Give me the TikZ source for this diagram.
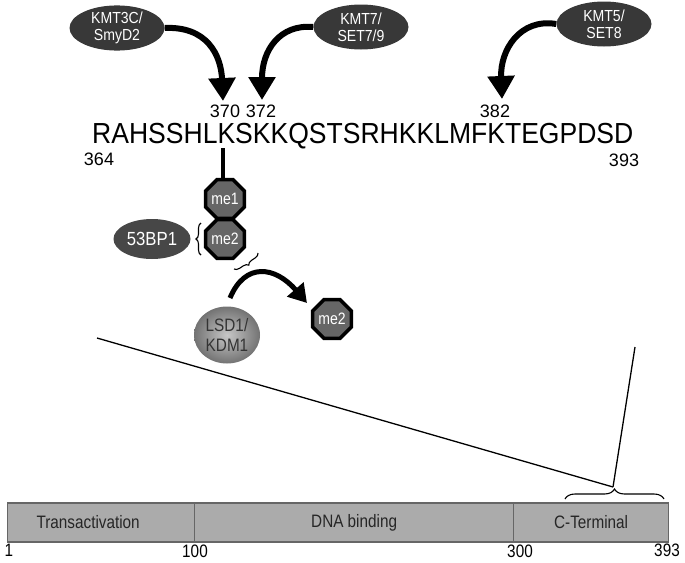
\documentclass[tikz,border=0pt]{standalone}
\usepackage{fontspec}
\setmainfont{Liberation Sans}
\newfontfamily\seqfont[FakeStretch=0.915]{Liberation Sans}
\newfontfamily\narrowfont[FakeStretch=0.85]{Liberation Sans}
\newfontfamily\kinfont[FakeStretch=0.88]{Liberation Sans}
\usetikzlibrary{shapes.geometric,arrows.meta,decorations.pathreplacing}
\begin{document}
\begin{tikzpicture}[x=1pt,y=-1pt,
  kin/.style={ellipse, fill=black!78, text=white, minimum width=95pt, minimum height=45pt,
    inner sep=0pt, align=center, font=\kinfont\fontsize{16}{17}\selectfont},
  meo/.style={regular polygon, regular polygon sides=8, minimum size=42pt, inner sep=0pt,
    draw=black, line width=3.5pt, fill=black!60, text=white, font=\narrowfont\fontsize{16.5}{17}\selectfont},
  bigarrow/.style={line width=6pt, -{Triangle[length=23pt,width=26pt]}},
  midarrow/.style={line width=5pt, -{Triangle[length=18pt,width=21pt]}},
  num/.style={font=\fontsize{18}{19}\selectfont, inner sep=0pt},
  seg/.style={rectangle, draw=black!60, line width=1.3pt, fill=black!33, minimum height=39pt,
    anchor=west, inner sep=0pt, font=\narrowfont\fontsize{18}{19}\selectfont, text=black!85},
  bnum/.style={font=\narrowfont\fontsize{18}{19}\selectfont, inner sep=0pt},
  bracestyle/.style={decorate, line width=1.1pt}
]
\useasboundingbox (0,0) rectangle (685,562);

% kinases
\node[kin] (k1) at (117,28) {KMT3C/\\SmyD2};
\node[kin] (k2) at (361,27) {KMT7/\\SET7/9};
\node[kin] (k3) at (604,24) {KMT5/\\SET8};

% sequence and positions
\node[anchor=base west, inner sep=0pt] (seq) at (92,143)
  {\seqfont\fontsize{29}{30}\selectfont RAHSSHLKSKKQSTSRHKKLMFKTEGPDSD};
\node[num] (n370) at (225,111) {370};
\node[num] (n372) at (261,111) {372};
\node[num] (n382) at (495,111) {382};
\node[num] (n364) at (99,159) {364};
\node[num] (n393) at (624,160) {393};

\coordinate (t370) at (223,101);
\coordinate (t372) at (262,100);
\coordinate (t382) at (502,99);
\draw[bigarrow] (k1.east) .. controls (207,26) and (221,55) .. (t370);
\draw[bigarrow] (k2.west) .. controls (280,24) and (262,50) .. (t372);
\draw[bigarrow] (k3.west) .. controls (520,18) and (500,50) .. (t382);

% methylation states
\node[meo] (me1) at (225,199) {me1};
\node[meo] (me2) at (225,239) {me2};
\coordinate (kpos) at (223,148);
\draw[line width=4pt] (kpos) -- (kpos |- me1.north);

\node[ellipse, fill=black!72, text=white, minimum width=77pt, minimum height=40pt, inner sep=0pt,
  font=\kinfont\fontsize{19}{20}\selectfont] (bp) at (152,239) {53BP1};
\draw[bracestyle, decoration={brace, amplitude=5pt}] (201,255) -- (201,223);
\draw[bracestyle, decoration={brace, amplitude=5pt}] (258,253) -- (234,269);

% demethylation
\node[ellipse, shading=radial, inner color=black!22, outer color=black!55, text=black!80,
  minimum width=66pt, minimum height=57pt, inner sep=0pt, align=center,
  font=\narrowfont\fontsize{18}{20}\selectfont] (lsd) at (227,335) {LSD1/\\KDM1};
\node[meo] (me2b) at (332,319) {me2};
\coordinate (lsdstart) at (230,298);
\coordinate (metip) at (307,303);
\draw[midarrow] (lsdstart) .. controls (245,262) and (275,266) .. (metip);

% protein domains
\node[seg, minimum width=187pt] (ta) at (7,522.5) {\hspace*{-26pt}Transactivation};
\node[seg, minimum width=319pt] (dna) at (194,522.5) {DNA binding};
\node[seg, minimum width=155pt] (ct) at (513,522.5) {C-Terminal};

\node[bnum] (b1) at (9,550) {1};
\node[bnum] (b100) at (195,551) {100};
\node[bnum] (b300) at (520,551) {300};
\node[bnum] (b393) at (667,550) {393};

% zoom lines and brace
\coordinate (ztip) at (613,487);
\coordinate (zl) at (97,338);
\coordinate (zr) at (635,347);
\draw[line width=1.3pt] (zl) -- (ztip);
\draw[line width=1.3pt] (zr) -- (ztip);
\draw[bracestyle, decoration={brace, amplitude=10pt}] (565,499) -- (664,499);
\end{tikzpicture}
\end{document}
